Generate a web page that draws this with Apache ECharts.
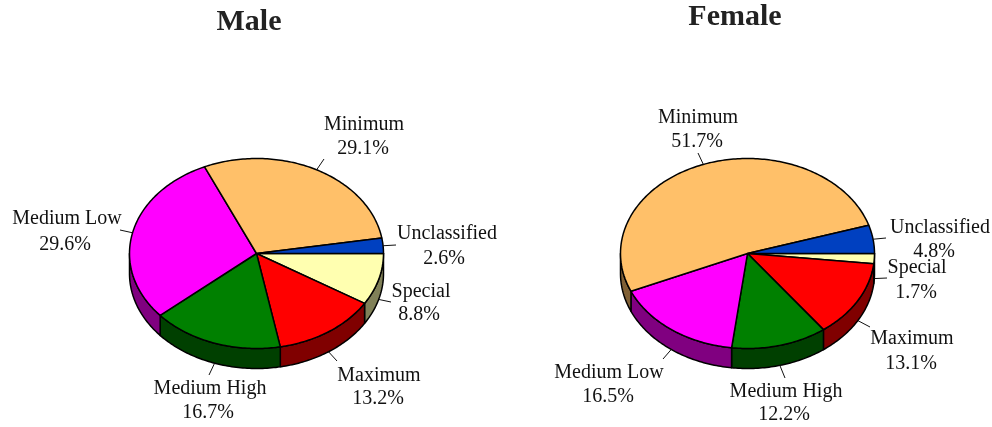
<!DOCTYPE html>
<html>
<head>
<meta charset="utf-8">
<style>html,body{margin:0;padding:0;background:#fff}#chart{width:992px;height:427px}</style>
<script src="https://cdn.jsdelivr.net/npm/echarts@6/dist/echarts.min.js"></script>
</head>
<body>
<div id="chart"></div>
<script>
var categories = ['Special', 'Maximum', 'Medium High', 'Medium Low', 'Minimum', 'Unclassified'];
var maleValues = [8.8, 13.2, 16.7, 29.6, 29.1, 2.6];
var femaleValues = [1.7, 13.1, 12.2, 16.5, 51.7, 4.8];

var topColors = ['#ffffb0', '#ff0000', '#008000', '#ff00ff', '#ffc069', '#0040c0'];
var sideColors = ['#808058', '#800000', '#004000', '#800080', '#806035', '#002060'];

// where the labels sit: name x,y  percent x,y  leader end x,y
var maleLabels = [
  [421, 292, 419, 315, 391, 302],
  [379, 376, 378, 399, 337, 361],
  [210, 389, 208, 413, 209, 375],
  [67, 219, 65, 245, 120, 230],
  [364, 125, 363, 149, 324, 159],
  [447, 234, 444, 259, 396, 245]
];
var femaleLabels = [
  [917, 268, 916, 293, 887, 278],
  [912, 339, 911, 364, 870, 327],
  [786, 392, 784, 415, 785, 378],
  [609, 373, 608, 397, 663, 359],
  [698, 118, 697, 142, 698, 153],
  [940, 228, 934, 252, 886, 238]
];

var rx = 127, ry = 95, depth = 20;
var labelFont = '20px "Liberation Serif"';

function edge(cx, cy, deg, drop) {
  var a = deg * Math.PI / 180;
  return [cx + rx * Math.cos(a), cy + ry * Math.sin(a) + (drop || 0)];
}

function pieSeries(values, labels, cx, cy) {
  var total = values.reduce(function (s, v) { return s + v; }, 0);
  var starts = [], run = 0;
  values.forEach(function (v) { starts.push(run); run += v; });

  return {
    type: 'custom',
    coordinateSystem: 'none',
    silent: true,
    data: values.map(function (v) { return [v]; }),
    renderItem: function (params, api) {
      var i = params.dataIndex;
      var from = starts[i] / total * 360;
      var to = (starts[i] + api.value(0)) / total * 360;
      var kids = [];
      var pts = [[cx, cy]], d;

      for (d = from; d < to; d += 1) pts.push(edge(cx, cy, d));
      pts.push(edge(cx, cy, to));
      kids.push({
        type: 'polygon', z2: 2,
        shape: { points: pts },
        style: { fill: topColors[i], stroke: '#000', lineWidth: 1.5, lineJoin: 'round' }
      });

      // rim, only the front half of the ellipse shows
      if (from < 180) {
        var end = Math.min(to, 180), upper = [], lower = [];
        for (d = from; d < end; d += 1) {
          upper.push(edge(cx, cy, d));
          lower.push(edge(cx, cy, d, depth));
        }
        upper.push(edge(cx, cy, end));
        lower.push(edge(cx, cy, end, depth));
        kids.push({
          type: 'polygon', z2: 1,
          shape: { points: upper.concat(lower.reverse()) },
          style: { fill: sideColors[i], stroke: '#000', lineWidth: 1.5, lineJoin: 'round' }
        });
      }

      var mid = (from + to) / 2;
      var anchor = edge(cx, cy, mid, mid < 180 ? depth : 0);
      var l = labels[i];
      kids.push({
        type: 'line', z2: 3,
        shape: { x1: anchor[0], y1: anchor[1], x2: l[4], y2: l[5] },
        style: { stroke: '#111', lineWidth: 1 }
      });
      kids.push({
        type: 'text', z2: 4,
        style: { text: categories[i], x: l[0], y: l[1], font: labelFont, fill: '#111', align: 'center', verticalAlign: 'middle' }
      });
      kids.push({
        type: 'text', z2: 4,
        style: { text: api.value(0).toFixed(1) + '%', x: l[2], y: l[3], font: labelFont, fill: '#111', align: 'center', verticalAlign: 'middle' }
      });
      return { type: 'group', children: kids };
    }
  };
}

var myChart = echarts.init(document.getElementById('chart'));
myChart.setOption({
  animation: false,
  backgroundColor: '#fff',
  title: [
    { text: 'Male', left: 244, top: 2, textAlign: 'center', textStyle: { fontFamily: 'Liberation Serif', fontSize: 30, fontWeight: 'bold', color: '#222' } },
    { text: 'Female', left: 730, top: -3, textAlign: 'center', textStyle: { fontFamily: 'Liberation Serif', fontSize: 30, fontWeight: 'bold', color: '#222' } }
  ],
  series: [
    pieSeries(maleValues, maleLabels, 256.5, 253.5),
    pieSeries(femaleValues, femaleLabels, 747.5, 253.5)
  ]
});
</script>
</body>
</html>
